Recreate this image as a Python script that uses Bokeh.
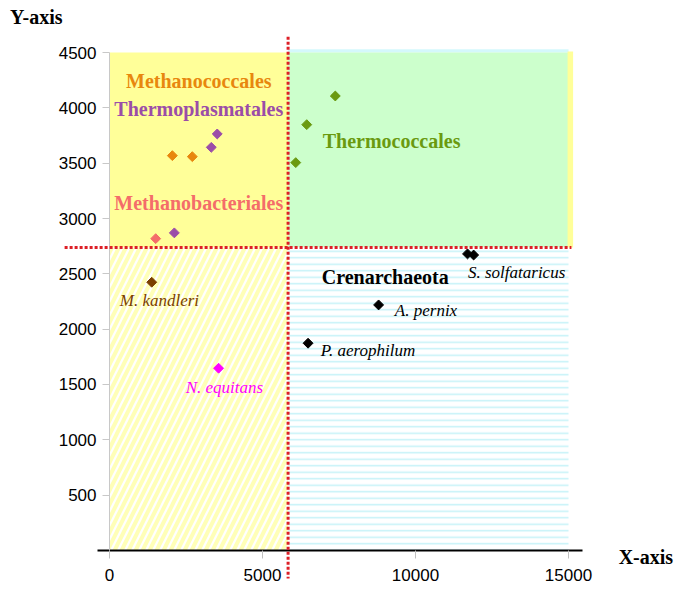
from bokeh.plotting import figure
from bokeh.models import Range1d, FixedTicker
from bokeh.core.properties import value
from bokeh.embed import file_html
from bokeh.resources import INLINE

# ---------------- data ----------------
methanococcales_x = [2054, 2706]
methanococcales_y = [3568, 3559]
thermoplasmatales_x = [3326, 3521, 2119]
thermoplasmatales_y = [3643, 3764, 2870]
methanobacteriales_x = [1510]
methanobacteriales_y = [2818]
thermococcales_x = [7379, 6446, 6087]
thermococcales_y = [4107, 3848, 3505]
crenarchaeota_x = [11700, 11900, 8794, 6489]
crenarchaeota_y = [2680, 2670, 2219, 1873]
kandleri_x = [1380]
kandleri_y = [2424]
equitans_x = [3565]
equitans_y = [1647]

x_split = 5836
y_split = 2737
x_max = 15000
y_max = 4500
x_ticks = [0, 5000, 10000, 15000]
y_ticks = [500, 1000, 1500, 2000, 2500, 3000, 3500, 4000, 4500]

group_labels = ["Methanococcales", "Thermoplasmatales", "Methanobacteriales",
                "Thermococcales", "Crenarchaeota"]
species_labels = ["S. solfataricus", "A. pernix", "P. aerophilum",
                  "M. kandleri", "N. equitans"]

# ---------------- figure ----------------
p = figure(width=683, height=600, output_backend="svg", toolbar_location=None,
           x_range=Range1d(-3562, 18758), y_range=Range1d(-452, 4970),
           min_border=0)
p.outline_line_color = None
p.grid.visible = False
p.background_fill_color = "white"
p.border_fill_color = "white"

# regions
p.quad(left=[0], right=[x_split], bottom=[y_split], top=[y_max],
       fill_color="#FFFF99", line_color=None)
p.quad(left=[x_split], right=[x_max], bottom=[y_max], top=[y_max + 30],
       fill_color="#D4F8FC", line_color=None)
p.quad(left=[x_split], right=[x_max], bottom=[y_split], top=[y_max],
       fill_color="#CCFFCC", line_color=None)
p.quad(left=[x_max - 30], right=[x_max + 150], bottom=[y_split], top=[y_max + 10],
       fill_color="#FFFF99", line_color=None)
p.quad(left=[0], right=[x_split], bottom=[0], top=[y_split],
       fill_color="white", line_color=None,
       hatch_pattern="/", hatch_color="#FFFFB8", hatch_scale=14, hatch_weight=4)
p.quad(left=[x_split], right=[x_max], bottom=[0], top=[y_split],
       fill_color="white", line_color=None,
       hatch_pattern="-", hatch_color="#C4F2F8", hatch_scale=6.5, hatch_weight=1.5)

# points
def pts(xs, ys, color):
    p.scatter(xs, ys, marker="square", angle=0.785398, size=7,
              fill_color=color, line_color=color)

pts(methanococcales_x, methanococcales_y, "#E8870E")
pts(thermoplasmatales_x, thermoplasmatales_y, "#9B4DA8")
pts(methanobacteriales_x, methanobacteriales_y, "#F46D6A")
pts(thermococcales_x, thermococcales_y, "#6A9A10")
pts(crenarchaeota_x, crenarchaeota_y, "black")
pts(kandleri_x, kandleri_y, "#7B3F00")
pts(equitans_x, equitans_y, "#FF00FF")

# group labels (bold)
serif = value("Liberation Serif")
gx = [2918, 2918, 2918, 6968, 6935]
gy = [4246, 3993, 3144, 3704, 2475]
galign = ["center", "center", "center", "left", "left"]
gcolors = ["#E8870E", "#9B4DA8", "#F46D6A", "#6A9A10", "black"]
for t, x, y, a, c in zip(group_labels, gx, gy, galign, gcolors):
    p.text([x], [y], text=[t], text_font=serif, text_font_style="bold",
           text_font_size="20px", text_color=c, text_align=a,
           text_baseline="middle")

# species labels (italic)
sx = [11715, 9325, 6903, 336, 2488]
sy = [2514, 2168, 1807, 2258, 1472]
scolors = ["black", "black", "black", "#7B3F00", "#FF00FF"]
for t, x, y, c in zip(species_labels, sx, sy, scolors):
    p.text([x], [y], text=[t], text_font=serif, text_font_style="italic",
           text_font_size="17px", text_color=c, text_align="left",
           text_baseline="middle")

# axis titles
p.text([-3251], [4818], text=["Y-axis"], text_font=serif, text_font_style="bold",
       text_font_size="20px", text_color="black", text_align="left",
       text_baseline="middle")
p.text([16638], [-61], text=["X-axis"], text_font=serif, text_font_style="bold",
       text_font_size="20px", text_color="black", text_align="left",
       text_baseline="middle")

# red dotted threshold lines
p.segment(x0=[-1467], y0=[y_split], x1=[15096], y1=[y_split],
          line_color="#DD1F26", line_width=3, line_dash="3 2", level="overlay")
p.segment(x0=[x_split], y0=[4643], x1=[x_split], y1=[-253],
          line_color="#DD1F26", line_width=3, line_dash="3 2", level="overlay")

# axes
xa = p.xaxis[0]
xa.fixed_location = 0
xa.bounds = (-400, 15450)
xa.ticker = FixedTicker(ticks=x_ticks)
xa.axis_line_color = "black"
xa.axis_line_width = 2
xa.major_tick_line_color = "#C0C0C0"
xa.major_tick_out = 8
xa.major_tick_in = 0
xa.minor_tick_line_color = None
xa.major_label_text_font = "Liberation Sans"
xa.major_label_text_font_size = "17px"
xa.major_label_text_color = "black"
xa.major_label_standoff = 11

ya = p.yaxis[0]
ya.fixed_location = 0
ya.bounds = (0, y_max)
ya.ticker = FixedTicker(ticks=y_ticks)
ya.axis_line_color = "#C8C8C8"
ya.axis_line_width = 1
ya.major_tick_line_color = "#C8C8C8"
ya.major_tick_out = 7
ya.major_tick_in = 0
ya.minor_tick_line_color = None
ya.major_label_text_font = "Liberation Sans"
ya.major_label_text_font_size = "17px"
ya.major_label_text_color = "black"
ya.major_label_standoff = 6

open("out.html", "w").write(file_html(p, INLINE))
